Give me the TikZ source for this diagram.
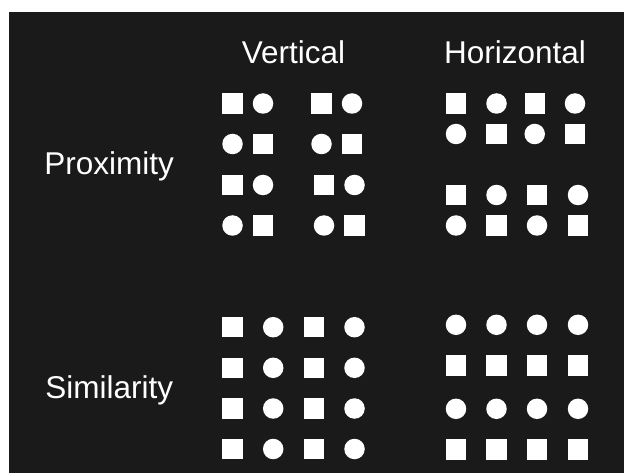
\documentclass[tikz,border=0pt]{standalone}
\usepackage{fontspec}
\setmainfont{Liberation Sans}
\definecolor{panel}{HTML}{1A1A1A}
\begin{document}
\begin{tikzpicture}[x=1pt,y=-1pt,
  sqr/.style={rectangle,fill=white,draw=none,minimum size=20.3pt,inner sep=0pt},
  dot/.style={circle,fill=white,draw=none,minimum size=20.5pt,inner sep=0pt},
  lbl/.style={text=white,font=\fontsize{31.5}{36}\selectfont,inner sep=0pt,anchor=base}]
\useasboundingbox (0,0) rectangle (624,473);
\fill[panel] (8.5,12) rectangle (624,473);

% column and row headings
\node[lbl] (hv) at (293.5,63.3) {Vertical};
\node[lbl] (hh) at (515,63.3) {Horizontal};
\node[lbl] (rp) at (109.2,175) {Proximity};
\node[lbl] (rs) at (109.2,398) {Similarity};

% proximity, grouped in columns
\foreach \x/\y/\s [count=\i] in {
  232.5/103.5/sqr, 263/103.5/dot, 321.5/103.5/sqr, 352/103.5/dot,
  232.5/144/dot,   263/144/sqr,   321.5/144/dot,   352/144/sqr,
  232.5/185/sqr,   263/185/dot,   324/185/sqr,     354.5/185/dot,
  232.5/225.5/dot, 263/225.5/sqr, 324/225.5/dot,   354.5/225.5/sqr}
  \node[\s] (pv\i) at (\x,\y) {};

% proximity, grouped in rows
\foreach \x/\y/\s [count=\i] in {
  456/103.5/sqr, 496.5/103.5/dot, 534.7/103.5/sqr, 575/103.5/dot,
  456/134/dot,   496.5/134/sqr,   534.7/134/dot,   575/134/sqr,
  456/195/sqr,   496.5/195/dot,   537/195/sqr,     578/195/dot,
  456/225.5/dot, 496.5/225.5/sqr, 537/225.5/dot,   578/225.5/sqr}
  \node[\s] (ph\i) at (\x,\y) {};

% similarity, alike shapes in columns
\foreach \y [count=\r] in {327.2,367.8,408.5,449}
  \foreach \x/\s [count=\c] in {232.5/sqr,273.2/dot,313.8/sqr,354.5/dot}
    \node[\s] (sv\r\c) at (\x,\y) {};

% similarity, alike shapes in rows
\foreach \y/\s [count=\r] in {324.8/dot,365.5/sqr,408.8/dot,449.5/sqr}
  \foreach \x [count=\c] in {456,496.5,537,578}
    \node[\s] (sh\r\c) at (\x,\y) {};
\end{tikzpicture}
\end{document}
